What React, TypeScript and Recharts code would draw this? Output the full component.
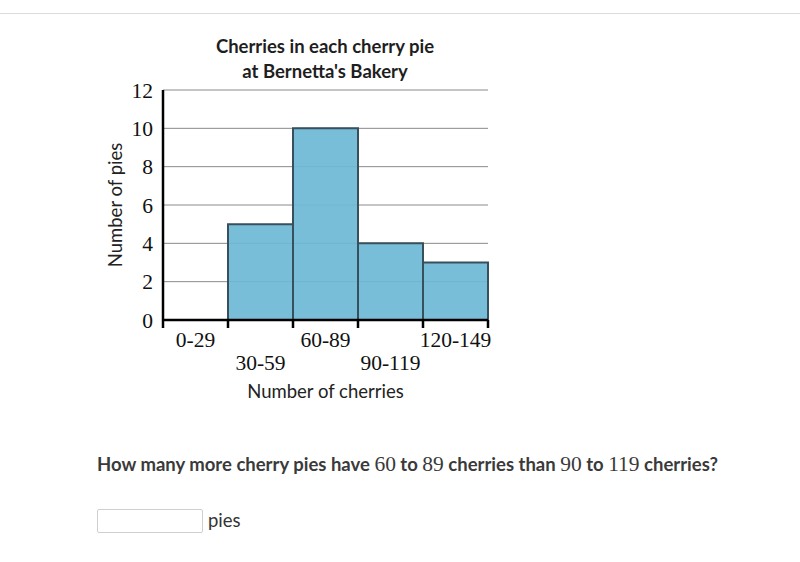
import React from 'react';
import { BarChart, Bar, XAxis, YAxis, CartesianGrid, Label } from 'recharts';

// Histogram data
const ranges = ['0-29', '30-59', '60-89', '90-119', '120-149'];
const pieCounts = [0, 5, 10, 4, 3];
const yTicks = [0, 2, 4, 6, 8, 10, 12];

const data = ranges.map((range, i) => ({ range, pies: pieCounts[i] }));

const serif = '"Liberation Serif", "DejaVu Serif", serif';
const sans = 'Lato, "Open Sans", sans-serif';

// label in the middle of the bin, tick mark on the bin edges
const RangeTick = (props: any) => {
  const { x, y, payload, index } = props;
  const half = payload?.offset ?? 0;
  const low = index % 2 === 1;
  return (
    <g>
      {index === 0 && (
        <line x1={x - half} x2={x - half} y1={y - 8} y2={y} stroke="#000" strokeWidth={2.5} />
      )}
      <line x1={x + half} x2={x + half} y1={y - 8} y2={y} stroke="#000" strokeWidth={2.5} />
      <text x={x} y={y + (low ? 42 : 19)} textAnchor="middle" fontFamily={serif} fontSize={21.5} fill="#111">
        {payload.value}
      </text>
    </g>
  );
};

const App: React.FC = () => {
  return (
    <div style={{ position: 'absolute', left: 0, top: 0, width: 800, height: 562, background: '#fff', fontFamily: sans }}>
      <div style={{ position: 'absolute', left: 0, top: 13, width: 800, height: 1, background: '#dcdcdc' }} />

      {/* Title */}
      <div
        style={{
          position: 'absolute', left: 175, width: 300, top: 34, textAlign: 'center',
          fontSize: 18.5, fontWeight: 700, lineHeight: '25px', color: '#1e1e1e',
        }}
      >
        <div>Cherries in each cherry pie</div>
        <div>at Bernetta's Bakery</div>
      </div>

      <div style={{ position: 'absolute', left: 0, top: 0 }}>
        <BarChart
          width={520}
          height={420}
          data={data}
          margin={{ top: 90, right: 32, left: 103, bottom: 42 }}
          barCategoryGap={0}
        >
          <CartesianGrid vertical={false} stroke="#8a8a8a" strokeWidth={1} />
          <Bar
            dataKey="pies"
            fill="#6cb9d5"
            fillOpacity={0.92}
            stroke="#37505b"
            strokeWidth={2}
            isAnimationActive={false}
          />
          <XAxis
            dataKey="range"
            height={58}
            axisLine={{ stroke: '#000', strokeWidth: 2.5 }}
            tickLine={false}
            tickSize={8}
            tickMargin={0}
            interval={0}
            tick={<RangeTick />}
          >
            <Label
              content={(p: any) => {
                const vb = p.viewBox || {};
                return (
                  <text x={vb.x + vb.width / 2} y={vb.y + 78} textAnchor="middle" fontFamily={sans} fontSize={18.5} fill="#222">
                    Number of cherries
                  </text>
                );
              }}
            />
          </XAxis>
          <YAxis
            width={60}
            domain={[0, 12]}
            ticks={yTicks}
            interval={0}
            axisLine={{ stroke: '#000', strokeWidth: 2.5 }}
            tickLine={false}
            tickSize={0}
            tickMargin={10}
            tick={{ fontFamily: serif, fontSize: 21.5, fill: '#111' }}
          >
            <Label
              content={(p: any) => {
                const vb = p.viewBox || {};
                const cx = vb.x + 12;
                const cy = vb.y + vb.height / 2;
                return (
                  <text
                    x={cx}
                    y={cy}
                    transform={`rotate(-90 ${cx} ${cy})`}
                    textAnchor="middle"
                    dominantBaseline="central"
                    fontFamily={sans}
                    fontSize={18.5}
                    fill="#222"
                  >
                    Number of pies
                  </text>
                );
              }}
            />
          </YAxis>
        </BarChart>
      </div>

      {/* Question */}
      <div style={{ position: 'absolute', left: 97, top: 452, fontSize: 18.5, fontWeight: 700, color: '#3a3a3a', whiteSpace: 'nowrap' }}>
        How many more cherry pies have{' '}
        <span style={{ fontFamily: serif, fontWeight: 400, fontSize: 21.5 }}>60</span> to{' '}
        <span style={{ fontFamily: serif, fontWeight: 400, fontSize: 21.5 }}>89</span> cherries than{' '}
        <span style={{ fontFamily: serif, fontWeight: 400, fontSize: 21.5 }}>90</span> to{' '}
        <span style={{ fontFamily: serif, fontWeight: 400, fontSize: 21.5 }}>119</span> cherries?
      </div>

      <div
        style={{
          position: 'absolute', left: 97, top: 509, width: 104, height: 22,
          border: '1px solid #cfcfcf', borderRadius: 2, background: '#fff',
        }}
      />
      <div style={{ position: 'absolute', left: 208, top: 509, fontSize: 18.5, color: '#333' }}>pies</div>
    </div>
  );
};

export default App;
